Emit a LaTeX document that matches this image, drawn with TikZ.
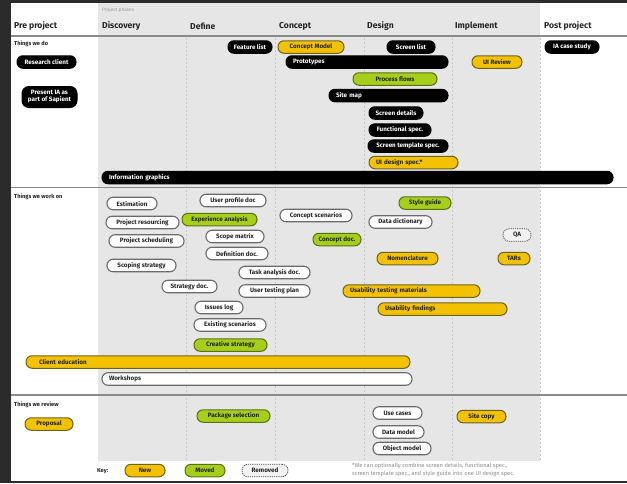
\documentclass[tikz,border=0pt]{standalone}
\usepackage{fontspec}
\setmainfont{Fira Sans}
\definecolor{frame}{HTML}{2B2B2B}
\definecolor{phase}{HTML}{E6E6E6}
\definecolor{yelfill}{HTML}{F2C200}
\definecolor{yelline}{HTML}{6E6420}
\definecolor{grnfill}{HTML}{A6CF1C}
\definecolor{grnline}{HTML}{5D7012}
\definecolor{whtline}{HTML}{6B6B6B}
\definecolor{inktext}{HTML}{262626}
\definecolor{sepline}{HTML}{8A8A8A}
\definecolor{dashline}{HTML}{C8C8C8}
\tikzset{
  pillbase/.style={rectangle, rounded corners=6pt, minimum height=12.5pt, inner ysep=0pt, inner xsep=3pt,
    font=\fontsize{6.3}{7}\selectfont\bfseries, line width=1pt},
  blk/.style={pillbase, fill=black, draw=black, text=white},
  yel/.style={pillbase, fill=yelfill, draw=yelline, text=inktext},
  grn/.style={pillbase, fill=grnfill, draw=grnline, text=inktext},
  wht/.style={pillbase, fill=white, draw=whtline, text=inktext, line width=1.1pt},
  rem/.style={pillbase, fill=white!95!black, draw=black!70, dashed, dash pattern=on 1.2pt off 1pt, text=inktext, line width=0.8pt},
  phasehead/.style={anchor=west, font=\fontsize{8.6}{9}\selectfont\bfseries, text=inktext, inner sep=0pt},
  rowhead/.style={anchor=west, font=\fontsize{5.7}{6}\selectfont\bfseries, text=inktext, inner sep=0pt},
  sep/.style={draw=sepline, line width=1.5pt},
  phasesep/.style={draw=dashline, line width=0.9pt, dash pattern=on 2pt off 2pt},
}
% centred pill: style, name, x1, x2, y, text
\newcommand\pilc[6]{\node[#1, minimum width={#4-#3}] (#2) at ({(#3+#4)/2},#5) {#6};}
% left-aligned pill
\newcommand\pill[6]{\node[#1, inner xsep=7pt, text width={#4-#3-14}, align=left] (#2) at ({(#3+#4)/2},#5) {#6};}
\begin{document}
\begin{tikzpicture}[x=1pt,y=-1pt]
\useasboundingbox (0,0) rectangle (627,483);
\fill[frame] (0,0) rectangle (627,483);
\fill[white] (11,3) rectangle (627,481);
\fill[phase] (98,3) rectangle (540,461);
% phase separators
\foreach \xx in {186,275,364,452,540}{\draw[phasesep] (\xx,38) -- (\xx,461);}
% horizontal separators
\draw[sep] (11,36) -- (627,36);
\draw[sep] (11,187.5) -- (627,187.5);
\draw[sep] (11,395) -- (627,395);
% headers
\node[anchor=west, font=\fontsize{4.8}{5}\selectfont, text=black!40, inner sep=0pt] (phases) at (102,10) {Project phases};
\node[phasehead] (hpre) at (14,26) {Pre project};
\node[phasehead] (hdisc) at (102,26) {Discovery};
\node[phasehead] (hdef) at (190,26) {Define};
\node[phasehead] (hcon) at (279,26) {Concept};
\node[phasehead] (hdes) at (367,26) {Design};
\node[phasehead] (himp) at (455,26) {Implement};
\node[phasehead] (hpost) at (544,26) {Post project};
% row heads
\node[rowhead] (rdo) at (14,44) {Things we do};
\node[rowhead] (rwork) at (14,197) {Things we work on};
\node[rowhead] (rrev) at (14,405) {Things we review};
% Things we do
\pilc{blk}{feature}{228}{272}{47}{Feature list}
\pilc{yel}{conceptmodel}{278}{344}{47}{Concept Model}
\pilc{blk}{screenlist}{387}{435}{47}{Screen list}
\pilc{blk}{iacase}{545}{599}{47}{IA case study}
\pilc{blk}{research}{17}{76}{62}{Research client}
\pill{blk}{prototypes}{286}{448}{62}{Prototypes}
\pilc{yel}{uireview}{472}{522}{62}{UI Review}
\pilc{grn}{processflows}{353}{437}{79}{Process flows}
\pill{blk}{sitemap}{329}{448}{95.5}{Site map}
\node[blk, minimum width=55pt, minimum height=21pt, rounded corners=7pt, align=center] (present) at (49.5,97) {Present IA as\\part of Sapient};
\pilc{blk}{screendetails}{369}{423}{113}{Screen details}
\pilc{blk}{functional}{369}{431}{130}{Functional spec.}
\pilc{blk}{screentemplate}{368}{448}{146}{Screen template spec.}
\pill{yel}{uidesign}{369}{458}{162.5}{UI design spec.*}
\pill{blk}{infographics}{102}{613}{177.5}{Information graphics}
% Things we work on
\pilc{wht}{estimation}{107}{157}{203.5}{Estimation}
\pilc{wht}{userprofile}{200}{266}{200.5}{User profile doc}
\pilc{wht}{projres}{106}{179}{222.5}{Project resourcing}
\pilc{grn}{expanalysis}{182}{257}{219.5}{Experience analysis}
\pilc{wht}{conceptscen}{280}{352}{215.5}{Concept scenarios}
\pilc{grn}{styleguide}{399}{451}{203}{Style guide}
\pilc{wht}{datadict}{369}{432}{222}{Data dictionary}
\pilc{rem}{qa}{503}{531}{235}{QA}
\pilc{wht}{projsched}{109}{184}{241}{Project scheduling}
\pilc{wht}{scopematrix}{206}{264}{236.5}{Scope matrix}
\pilc{grn}{conceptdoc}{313}{361}{239.5}{Concept doc.}
\pilc{wht}{defdoc}{206}{268}{253.5}{Definition doc.}
\pilc{yel}{nomenclature}{377}{438}{258.5}{Nomenclature}
\pilc{yel}{tars}{498}{530}{258.5}{TARs}
\pilc{wht}{scoping}{107}{176}{265.5}{Scoping strategy}
\pilc{wht}{taskanalysis}{239}{310}{272.5}{Task analysis doc.}
\pilc{wht}{strategydoc}{162}{217}{286.5}{Strategy doc.}
\pilc{wht}{usertesting}{239}{310}{291}{User testing plan}
\pill{yel}{usabmat}{343}{480}{291}{Usability testing materials}
\pill{yel}{usabfind}{378}{507}{309}{Usability findings}
\pilc{wht}{issues}{195}{243}{307.5}{Issues log}
\pilc{wht}{existing}{194}{266}{325}{Existing scenarios}
\pilc{grn}{creative}{194}{267}{345}{Creative strategy}
\node[yel, inner xsep=13pt, text width=358pt, align=left] (clientedu) at (218,362) {Client education};
\pill{wht}{workshops}{102}{412}{379}{Workshops}
% Things we review
\pilc{yel}{proposal}{25}{73}{424}{Proposal}
\pilc{grn}{package}{197}{270}{416}{Package selection}
\pilc{wht}{usecases}{373}{422}{413}{Use cases}
\pilc{wht}{datamodel}{373}{424}{432}{Data model}
\pilc{wht}{objectmodel}{373}{431}{448.5}{Object model}
\pilc{yel}{sitecopy}{457}{506}{416.5}{Site copy}
% Key
\node[anchor=west, font=\fontsize{5.7}{6}\selectfont\bfseries, text=inktext, inner sep=0pt] (key) at (97,471) {Key:};
\pilc{yel}{knew}{125}{165}{470.5}{New}
\pilc{grn}{kmoved}{185}{225}{470.5}{Moved}
\pilc{rem}{kremoved}{242}{288}{470.5}{Removed}
\node[anchor=north west, font=\fontsize{5.7}{8}\selectfont, text=black!45, inner sep=0pt, align=left] (footnote) at (352,463) {*We can optionally combine screen details, functional spec.,\\screen template spec., and style guide into one UI design spec.};
\end{tikzpicture}
\end{document}
